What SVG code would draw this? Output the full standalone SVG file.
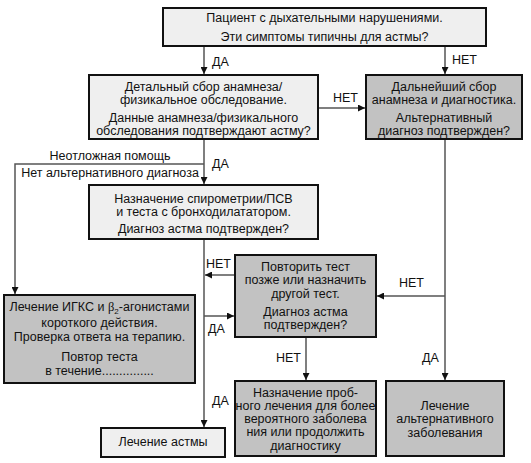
<svg xmlns="http://www.w3.org/2000/svg" width="531" height="463" viewBox="0 0 531 463">
<style>
  text { font-family: "Liberation Sans", Arial, sans-serif; font-size: 12.5px; fill: #111; }
  .c { text-anchor: middle; }
  .box { stroke: #111; stroke-width: 2; }
  .light { fill: #efefef; }
  .dark { fill: #c2c2c2; }
  .con { fill: none; stroke: #555; stroke-width: 1.5; }
</style>
<defs>
  <marker id="ah" viewBox="0 0 10 10" refX="10" refY="5" markerWidth="7" markerHeight="7" markerUnits="userSpaceOnUse" orient="auto">
    <path d="M0,0 L10,5 L0,10 z" fill="#111"/>
  </marker>
</defs>
<rect width="531" height="463" fill="#fff"/>

<g id="connectors">
  <line class="con" x1="204" y1="46" x2="204" y2="74" marker-end="url(#ah)"/>
  <line class="con" x1="445" y1="46" x2="445" y2="74" marker-end="url(#ah)"/>
  <line class="con" x1="318" y1="108" x2="365" y2="108" marker-end="url(#ah)"/>
  <line class="con" x1="204" y1="139" x2="204" y2="184" marker-end="url(#ah)"/>
  <polyline class="con" points="204,164 15,164 15,294" marker-end="url(#ah)"/>
  <line class="con" x1="204" y1="239" x2="204" y2="427" marker-end="url(#ah)"/>
  <line class="con" x1="235" y1="275" x2="205" y2="275" marker-end="url(#ah)"/>
  <line class="con" x1="204" y1="316" x2="234" y2="316" marker-end="url(#ah)"/>
  <line class="con" x1="445" y1="139" x2="445" y2="380" marker-end="url(#ah)"/>
  <line class="con" x1="445" y1="296" x2="377" y2="296" marker-end="url(#ah)"/>
  <line class="con" x1="306" y1="337" x2="306" y2="380" marker-end="url(#ah)"/>
  <text x="212" y="66">ДА</text>
  <text x="452" y="64">НЕТ</text>
  <text x="333" y="102">НЕТ</text>
  <text x="212" y="168">ДА</text>
  <text class="c" x="110" y="160">Неотложная помощь</text>
  <text class="c" x="110" y="177">Нет альтернативного диагноза</text>
  <text x="206" y="268">НЕТ</text>
  <text x="208" y="333">ДА</text>
  <text x="212" y="405">ДА</text>
  <text x="399" y="287">НЕТ</text>
  <text x="422" y="362">ДА</text>
  <text x="276" y="362">НЕТ</text>
</g>

<g id="n1">
  <rect class="box light" x="163" y="8" width="323" height="38"/>
  <text class="c" x="324.5" y="22">Пациент с дыхательными нарушениями.</text>
  <text class="c" x="324.5" y="41">Эти симптомы типичны для астмы?</text>
</g>

<g id="n2">
  <rect class="box light" x="89" y="75" width="229" height="64"/>
  <text class="c" x="203.5" y="91">Детальный сбор анамнеза/</text>
  <text class="c" x="203.5" y="104">физикальное обследование.</text>
  <text class="c" x="203.5" y="122">Данные анамнеза/физикального</text>
  <text class="c" x="203.5" y="135">обследования подтверждают астму?</text>
</g>

<g id="n3">
  <rect class="box dark" x="366" y="75" width="156" height="64"/>
  <text class="c" x="444" y="91">Дальнейший сбор</text>
  <text class="c" x="444" y="104">анамнеза и диагностика.</text>
  <text class="c" x="444" y="122">Альтернативный</text>
  <text class="c" x="444" y="135">диагноз подтвержден?</text>
</g>

<g id="n4">
  <rect class="box light" x="89" y="185" width="229" height="54"/>
  <text class="c" x="203.5" y="203">Назначение спирометрии/ПСВ</text>
  <text class="c" x="203.5" y="216">и теста с бронходилататором.</text>
  <text class="c" x="203.5" y="233">Диагноз астма подтвержден?</text>
</g>

<g id="n5">
  <rect class="box dark" x="235" y="255" width="141" height="82"/>
  <text class="c" x="305.5" y="271">Повторить тест</text>
  <text class="c" x="305.5" y="284">позже или назначить</text>
  <text class="c" x="305.5" y="298">другой тест.</text>
  <text class="c" x="305.5" y="316">Диагноз астма</text>
  <text class="c" x="305.5" y="329">подтвержден?</text>
</g>

<g id="n6">
  <rect class="box dark" x="4" y="295" width="191" height="88"/>
  <text class="c" x="99.5" y="311">Лечение ИГКС и <tspan font-family="Liberation Serif, serif">β</tspan><tspan font-size="8" dy="3">2</tspan><tspan dy="-3">-агонистами</tspan></text>
  <text class="c" x="99.5" y="327">короткого действия.</text>
  <text class="c" x="99.5" y="341">Проверка ответа на терапию.</text>
  <text class="c" x="99.5" y="361">Повтор теста</text>
  <text class="c" x="99.5" y="375">в течение...............</text>
</g>

<g id="n7">
  <rect class="box dark" x="235" y="381" width="141" height="75"/>
  <text class="c" x="305.5" y="397">Назначение проб-</text>
  <text class="c" x="305.5" y="410">ного лечения для более</text>
  <text class="c" x="305.5" y="423">вероятного заболева</text>
  <text class="c" x="305.5" y="436">ния или продолжить</text>
  <text class="c" x="305.5" y="450">диагностику</text>
</g>

<g id="n8">
  <rect class="box dark" x="386" y="381" width="118" height="75"/>
  <text class="c" x="445" y="410">Лечение</text>
  <text class="c" x="445" y="423">альтернативного</text>
  <text class="c" x="445" y="437">заболевания</text>
</g>

<g id="n9">
  <rect class="box light" x="101" y="428" width="124" height="29"/>
  <text class="c" x="163" y="446">Лечение астмы</text>
</g>
</svg>
